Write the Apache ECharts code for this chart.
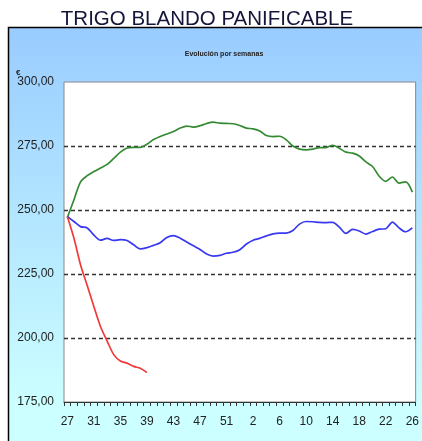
<!DOCTYPE html>
<html>
<head>
<meta charset="utf-8">
<script src="https://cdn.jsdelivr.net/npm/echarts@6/dist/echarts.min.js"></script>
<style>html,body{margin:0;padding:0;background:#fff;}#c{width:422px;height:441px;}</style>
</head>
<body>
<div id="c"></div>
<script>
// Weeks 27..53 then 1..26 (53-week year)
const weeks = [27,28,29,30,31,32,33,34,35,36,37,38,39,40,41,42,43,44,45,46,47,48,49,50,51,52,53,
  1,2,3,4,5,6,7,8,9,10,11,12,13,14,15,16,17,18,19,20,21,22,23,24,25,26].map(String);

const greenSeries = [247,254,261,263.4,265,266.4,267.8,270.2,272.6,274.2,274.5,274.5,275.7,277.5,278.7,279.7,280.7,282,282.8,282.4,282.9,283.8,284.3,283.9,283.8,283.7,283,
  282,281.7,280.9,279.1,278.7,278.8,277.4,275,273.8,273.5,273.8,274.4,274.4,275.3,274.1,272.6,272.2,271.1,268.8,267,263.2,261.2,262.9,260.5,261,257];

const blueSeries = [247.5,245.5,243.5,243,240.2,238.2,238.9,238.1,238.4,238.1,236.4,234.8,235.3,236.2,237.2,239.3,240,239,237.5,236,234.6,232.8,232,232.3,233.1,233.5,234.5,
  236.7,238.2,238.9,239.9,240.7,241,241,242,244.5,245.5,245.4,245.2,245.1,245.2,243.3,240.9,242.4,241.8,240.6,241.6,242.5,242.7,245.3,243,241.5,243];

const redSeries = [247.5,239,228.5,220.5,212.3,204.5,198.8,193.5,191,190.2,188.9,188.2,186.5];

const yMin = 175, yMax = 300, yStep = 25;

const chart = echarts.init(document.getElementById('c'));
chart.setOption({
  animation: false,
  title: [
    {text: 'TRIGO BLANDO PANIFICABLE', left: 202, textAlign: 'center', top: 4,
     textStyle: {fontFamily: 'Liberation Sans', fontSize: 20.5, fontWeight: 'normal', color: '#15153a'}},
    {text: 'Evolución por semanas', left: 219, textAlign: 'center', top: 46,
     textStyle: {fontFamily: 'Liberation Sans', fontSize: 7, fontWeight: 'bold', color: '#222'}},
    {text: '€', left: 11, top: 64,
     textStyle: {fontFamily: 'Liberation Sans', fontSize: 8, fontWeight: 'bold', color: '#222'}}
  ],
  graphic: [{
    type: 'rect', z: -10, silent: true,
    shape: {x: 8.5, y: 27.5, width: 430, height: 430},
    style: {
      fill: new echarts.graphic.LinearGradient(0, 0, 0, 1, [
        {offset: 0, color: '#99ccff'}, {offset: 0.88, color: '#ccffff'}, {offset: 1, color: '#ccffff'}
      ]),
      stroke: '#000', lineWidth: 1.5
    }
  }],
  grid: {left: 64, top: 82, right: 6, bottom: 39, show: true, backgroundColor: '#fff', borderColor: '#888', borderWidth: 1},
  xAxis: {
    type: 'category', data: weeks, boundaryGap: true,
    axisLine: {show: true, lineStyle: {color: '#333', width: 1}},
    axisTick: {show: true, interval: 0, length: 4, lineStyle: {color: '#333'}},
    axisLabel: {interval: 3, margin: 14, fontFamily: 'Liberation Sans', fontSize: 12, color: '#222'},
    splitLine: {show: false}
  },
  yAxis: {
    type: 'value', min: yMin, max: yMax, interval: yStep,
    axisLine: {show: false}, axisTick: {show: false},
    axisLabel: {margin: 10, fontFamily: 'Liberation Sans', fontSize: 12, color: '#222',
      formatter: v => v.toFixed(2).replace('.', ',')},
    splitLine: {show: true, showMinLine: false, showMaxLine: false,
      lineStyle: {color: '#333', type: [4, 3], width: 1.3}}
  },
  series: [
    {type: 'line', data: greenSeries, smooth: 0.3, symbol: 'none', lineStyle: {color: '#338a33', width: 1.7}, z: 3},
    {type: 'line', data: blueSeries, smooth: 0.3, symbol: 'none', lineStyle: {color: '#3838f0', width: 1.7}, z: 3},
    {type: 'line', data: redSeries, smooth: 0.3, symbol: 'none', lineStyle: {color: '#f03a3a', width: 1.7}, z: 4}
  ]
});
</script>
</body>
</html>
